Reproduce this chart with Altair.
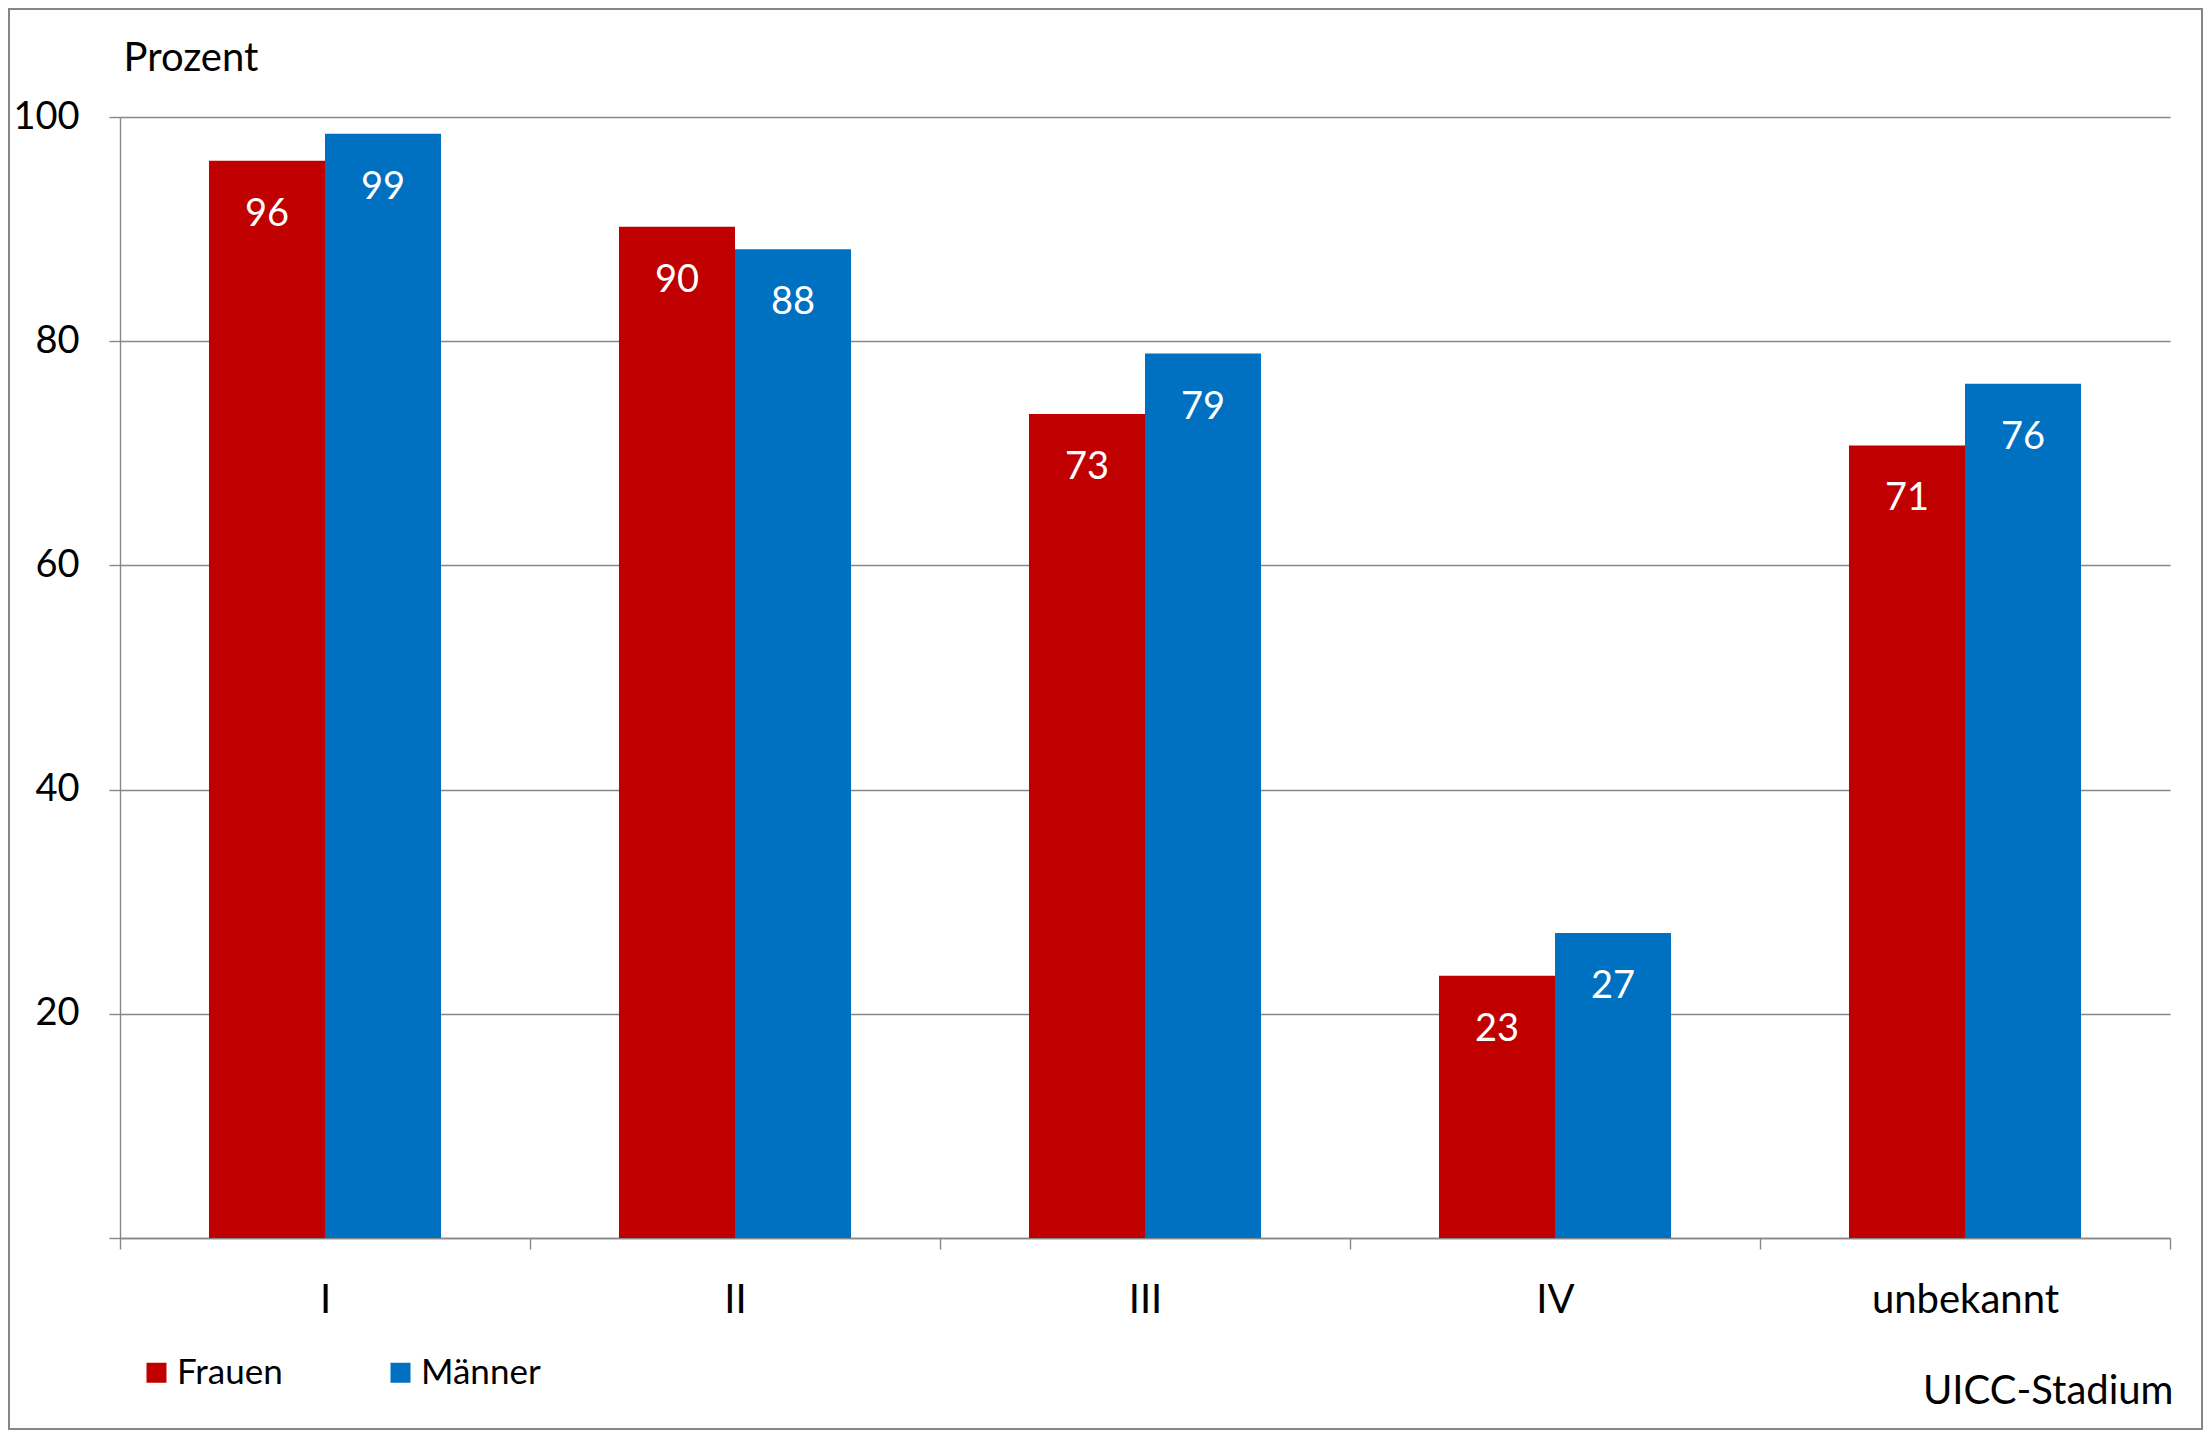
import altair as alt
import pandas as pd

stages = ["I", "II", "III", "IV", "unbekannt"]
sexes = ["Frauen", "Männer"]
frauen = [96.1, 90.2, 73.5, 23.4, 70.7]
maenner = [98.5, 88.2, 78.9, 27.2, 76.2]
frauen_labels = ["96", "90", "73", "23", "71"]
maenner_labels = ["99", "88", "79", "27", "76"]
colors = ["#C00000", "#0070C0"]
y_ticks = [0, 20, 40, 60, 80, 100]

rows = []
for i, s in enumerate(stages):
    rows.append({"stage": s, "sex": "Frauen", "value": frauen[i], "label": frauen_labels[i]})
    rows.append({"stage": s, "sex": "Männer", "value": maenner[i], "label": maenner_labels[i]})
df = pd.DataFrame(rows)

FONT = "Lato"
GRAY = "#868686"

x_enc = alt.X(
    "stage:N",
    sort=stages,
    scale=alt.Scale(paddingInner=0, paddingOuter=0),
    axis=alt.Axis(
        title="UICC-Stadium",
        labelAngle=0,
        labelLimit=500,
        tickBand="extent",
        tickSize=11,
        tickColor=GRAY,
        tickWidth=1.4,
        domainColor=GRAY,
        domainWidth=1.6,
        labelFont=FONT,
        labelFontSize=40,
        labelColor="black",
        labelPadding=31,
        grid=False,
        titleFont=FONT,
        titleFontSize=40,
        titleFontWeight="normal",
        titleColor="black",
        titleAlign="right",
        titleBaseline="alphabetic",
        titleX=2053,
        titleY=165,
    ),
)
xo_enc = alt.XOffset("sex:N", sort=sexes, scale=alt.Scale(paddingInner=0, paddingOuter=0.767))
y_enc = alt.Y(
    "value:Q",
    scale=alt.Scale(domain=[0, 100], nice=False),
    axis=alt.Axis(
        values=y_ticks,
        labelExpr="datum.value == 0 ? '' : datum.label",
        grid=True,
        gridColor=GRAY,
        gridWidth=1.4,
        domainColor=GRAY,
        domainWidth=1.4,
        tickColor=GRAY,
        tickSize=11,
        tickWidth=1.4,
        labelFont=FONT,
        labelFontSize=38,
        labelColor="black",
        labelPadding=30,
        title="Prozent",
        titleAngle=0,
        titleAlign="left",
        titleBaseline="alphabetic",
        titleX=3,
        titleY=-47,
        titleFont=FONT,
        titleFontSize=40,
        titleFontWeight="normal",
        titleColor="black",
    ),
)

base = alt.Chart(df)

bars = base.mark_bar().encode(
    x=x_enc,
    xOffset=xo_enc,
    y=y_enc,
    color=alt.Color(
        "sex:N",
        scale=alt.Scale(domain=sexes, range=colors),
        legend=alt.Legend(
            title=None,
            orient="none",
            legendX=19,
            legendY=1238,
            direction="horizontal",
            symbolType="square",
            symbolSize=400,
            symbolStrokeWidth=0,
            labelFont=FONT,
            labelFontSize=35,
            labelColor="black",
            labelOffset=3,
            columnPadding=100,
            padding=0,
        ),
    ),
)

text = base.mark_text(
    color="white", font=FONT, fontSize=38, baseline="middle", dy=54
).encode(x=x_enc, xOffset=xo_enc, y=y_enc, text="label:N")

border = alt.Chart(alt.Data(values=[{}])).mark_rect(
    fill="transparent", stroke=GRAY, strokeWidth=2
).encode(
    x=alt.value(-111), x2=alt.value(2082), y=alt.value(-108), y2=alt.value(1312)
)

chart = alt.layer(border, bars, text).properties(
    width=2050,
    height=1121,
    autosize=alt.AutoSizeParams(type="none"),
    padding={"left": 112, "top": 109, "right": 33, "bottom": 192},
    background="white",
).configure_view(stroke=None)

chart.save("out.html", embed_options={"renderer": "svg", "actions": False})
